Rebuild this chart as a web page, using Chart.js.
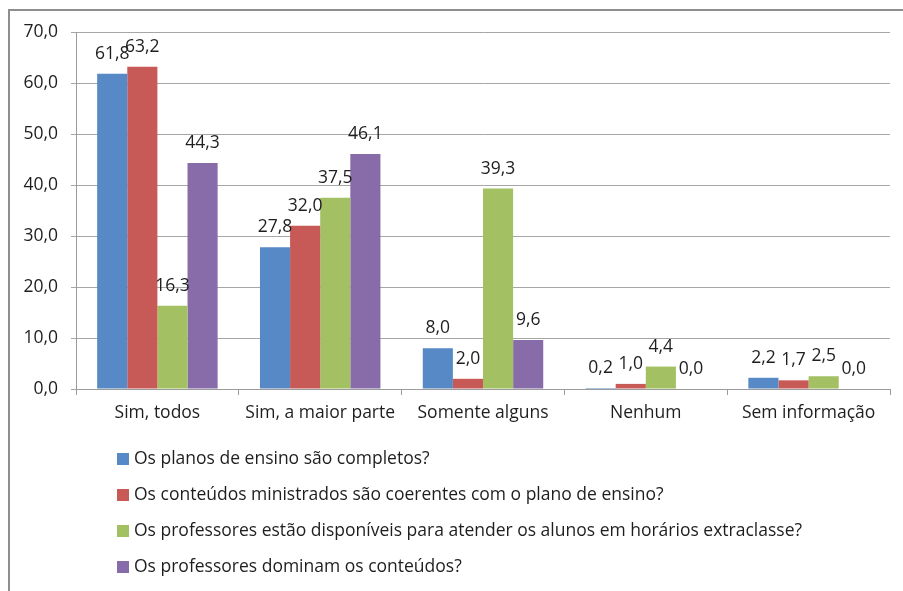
<!DOCTYPE html>
<html>
<head>
<meta charset="utf-8">
<style>
	html, body { margin: 0; padding: 0; background: #fff; }
	#wrap { width: 903px; height: 591px; }
</style>
<script src="https://cdn.jsdelivr.net/npm/chart.js@4/dist/chart.umd.min.js"></script>
</head>
<body>
<div id="wrap"><canvas id="myChart" width="903" height="591"></canvas></div>
<script>
var categorias = ["Sim, todos", "Sim, a maior parte", "Somente alguns", "Nenhum", "Sem informação"];
var series = [
	"Os planos de ensino são completos?",
	"Os conteúdos ministrados são coerentes com o plano de ensino?",
	"Os professores estão disponíveis para atender os alunos em horários extraclasse?",
	"Os professores dominam os conteúdos?"
];
var planos = [61.8, 27.8, 8.0, 0.2, 2.2];
var conteudos = [63.2, 32.0, 2.0, 1.0, 1.7];
var disponiveis = [16.3, 37.5, 39.3, 4.4, 2.5];
var dominam = [44.3, 46.1, 9.6, 0.0, 0.0];
var cores = ["#5689c5", "#c75a56", "#a3c163", "#886ca9"];

var fonte = "'Open Sans', 'Noto Sans', sans-serif";
var tamanho = 17.5;
var corTexto = "#1e1e1e";

function virgula(v) {
	return v.toFixed(1).replace(".", ",");
}

// moldura cinza + fundo branco
var moldura = {
	id: "moldura",
	beforeDraw: function(chart) {
		var ctx = chart.ctx;
		ctx.save();
		ctx.fillStyle = "#fff";
		ctx.fillRect(0, 0, chart.width, chart.height);
		ctx.strokeStyle = "#8e8e8e";
		ctx.lineWidth = 2;
		ctx.beginPath();
		ctx.moveTo(9, chart.height);
		ctx.lineTo(9, 10);
		ctx.lineTo(chart.width, 10);
		ctx.stroke();
		ctx.restore();
	}
};

// rótulos de valor em cima das barras
var rotulos = {
	id: "rotulos",
	afterDatasetsDraw: function(chart) {
		var ctx = chart.ctx;
		ctx.save();
		ctx.font = tamanho + "px " + fonte;
		ctx.fillStyle = corTexto;
		ctx.textAlign = "center";
		ctx.textBaseline = "alphabetic";
		chart.data.datasets.forEach(function(ds, i) {
			chart.getDatasetMeta(i).data.forEach(function(bar, j) {
				ctx.fillText(virgula(ds.data[j]), bar.x, bar.y - 15);
			});
		});
		ctx.restore();
	}
};

// legenda em lista vertical abaixo do gráfico
var legenda = {
	id: "legenda",
	afterDraw: function(chart) {
		var ctx = chart.ctx;
		ctx.save();
		ctx.font = tamanho + "px " + fonte;
		ctx.textBaseline = "middle";
		chart.data.datasets.forEach(function(ds, i) {
			var y = 459 + i * 36;
			ctx.fillStyle = ds.backgroundColor;
			ctx.fillRect(117, y - 6, 12, 12);
			ctx.fillStyle = corTexto;
			ctx.fillText(ds.label, 134, y);
		});
		ctx.restore();
	}
};

var data = {
	labels: categorias,
	datasets: [
		{ label: series[0], backgroundColor: cores[0], data: planos },
		{ label: series[1], backgroundColor: cores[1], data: conteudos },
		{ label: series[2], backgroundColor: cores[2], data: disponiveis },
		{ label: series[3], backgroundColor: cores[3], data: dominam }
	]
};

var ctx = document.getElementById("myChart").getContext("2d");
var myChart = new Chart(ctx, {
	type: "bar",
	data: data,
	plugins: [moldura, rotulos, legenda],
	options: {
		responsive: false,
		animation: false,
		layout: { padding: { left: 0, top: 32, right: 13, bottom: 162 } },
		datasets: { bar: { categoryPercentage: 0.74, barPercentage: 1 } },
		plugins: {
			legend: { display: false },
			tooltip: { enabled: false }
		},
		scales: {
			x: {
				grid: { drawOnChartArea: false, color: "#9a9a9a", tickLength: 6, offset: true },
				border: { color: "#9a9a9a" },
				ticks: { font: { family: fonte, size: tamanho }, color: corTexto, padding: 8 },
				afterFit: function(s) { s.height = 40; }
			},
			y: {
				min: 0,
				max: 70,
				ticks: {
					stepSize: 10,
					font: { family: fonte, size: tamanho },
					color: corTexto,
					padding: 13,
					callback: function(v) { return virgula(v); }
				},
				grid: { color: "#a6a6a6", tickLength: 5 },
				border: { color: "#9a9a9a" },
				afterFit: function(s) { s.width = 76; }
			}
		}
	}
});
</script>
</body>
</html>
